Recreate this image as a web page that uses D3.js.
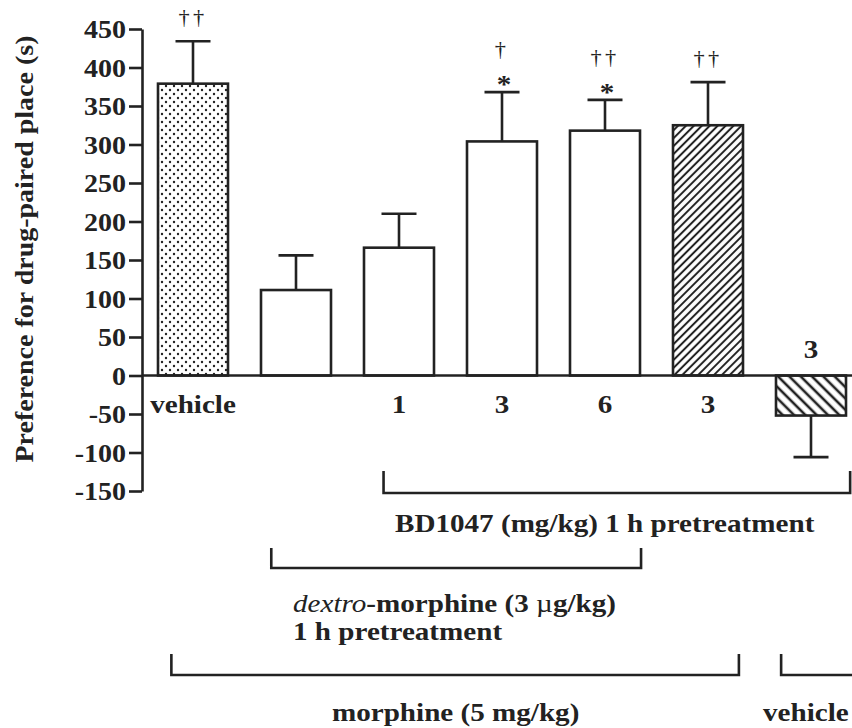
<!DOCTYPE html>
<html>
<head>
<meta charset="utf-8">
<script src="https://cdn.jsdelivr.net/npm/d3@7"></script>
<style>
  body { margin: 0; background: #fff; }
</style>
</head>
<body>
<svg id="chart" width="852" height="728"></svg>
<script>
// values (seconds)
const categories = ["vehicle", "", "1", "3", "6", "3", "3"];
const means = [379, 111, 166, 304, 318, 325, -52];
const sems = [55, 45, 44, 64, 40, 56, 54];
const fills = ["dots", "open", "open", "open", "open", "hatchUp", "hatchDown"];
const daggers = ["††", "", "", "†", "††", "††", ""];
const stars = ["", "", "", "*", "*", "", ""];
const yTicks = [-150, -100, -50, 0, 50, 100, 150, 200, 250, 300, 350, 400, 450];

// treatment groups under the axis, in bar-index units
const groupLabels = ["BD1047 (mg/kg) 1 h pretreatment", "dextro-morphine (3 µg/kg)", "morphine (5 mg/kg)", "vehicle"];
const groupFrom = [1.85, 0.76, -0.21, 5.71];
const groupTo = [6.38, 4.35, 5.3, 6.6];

const SX = 1.12;       // the print type is a bit wider than Times
const FONT = "Liberation Serif";
const ink = "#222";

const svg = d3.select("#chart");

const x = d3.scaleLinear().domain([0, 6]).range([193, 811]);
const y = d3.scaleLinear().domain([-150, 450]).range([491, 29]);
const barW = 70;
const axisX = 142;

// fill patterns
const defs = svg.append("defs");
const dots = defs.append("pattern").attr("id", "dots")
  .attr("patternUnits", "userSpaceOnUse").attr("width", 8).attr("height", 8);
dots.append("rect").attr("width", 8).attr("height", 8).attr("fill", "#fff");
dots.append("circle").attr("cx", 2).attr("cy", 2).attr("r", 1.2).attr("fill", ink);
dots.append("circle").attr("cx", 6).attr("cy", 6).attr("r", 1.2).attr("fill", ink);

function hatch(id, gap, angle, w) {
  const p = defs.append("pattern").attr("id", id)
    .attr("patternUnits", "userSpaceOnUse").attr("width", gap).attr("height", gap)
    .attr("patternTransform", "rotate(" + angle + ")");
  p.append("rect").attr("width", gap).attr("height", gap).attr("fill", "#fff");
  p.append("line").attr("x1", gap / 2).attr("x2", gap / 2).attr("y1", 0).attr("y2", gap)
    .attr("stroke", ink).attr("stroke-width", w);
}
hatch("hatchUp", 5.6, 45, 2);
hatch("hatchDown", 8, -45, 2.6);

function fillOf(f) { return f === "open" ? "#fff" : "url(#" + f + ")"; }

// text drawn inside a horizontally stretched group
function label(parent, tx, ty, str, size, anchor, rot) {
  const g = parent.append("g")
    .attr("transform", "translate(" + tx + "," + ty + ")" + (rot ? " rotate(" + rot + ")" : "") + " scale(" + SX + ",1)");
  return g.append("text")
    .attr("text-anchor", anchor || "middle")
    .style("font-family", FONT)
    .style("font-size", size + "px")
    .style("font-weight", "bold")
    .attr("fill", ink)
    .text(str);
}

// y axis (plain hyphen for negatives, as printed)
const yAxis = d3.axisLeft(y).tickValues(yTicks).tickSize(13).tickSizeOuter(0)
  .tickFormat(d => String(d));
const ga = svg.append("g").attr("transform", "translate(" + axisX + ",0)").call(yAxis);
ga.select(".domain").attr("stroke", ink).attr("stroke-width", 2.6);
ga.selectAll(".tick line").attr("stroke", ink).attr("stroke-width", 2.6);
ga.selectAll(".tick text")
  .style("font-family", FONT).style("font-size", "25px").style("font-weight", "bold")
  .attr("fill", ink)
  .attr("x", -16 / SX).attr("dy", "0.34em")
  .attr("transform", "scale(" + SX + ",1)");

label(svg, 33, 249, "Preference for drug-paired place (s)", 25, "middle", -90);

// bars
const bars = svg.append("g");
bars.selectAll("rect").data(means).join("rect")
  .attr("x", (d, i) => x(i) - barW / 2)
  .attr("y", d => y(Math.max(0, d)))
  .attr("width", barW)
  .attr("height", d => Math.abs(y(d) - y(0)))
  .attr("fill", (d, i) => fillOf(fills[i]))
  .attr("stroke", ink).attr("stroke-width", 2.6);

// error bars, pointing away from zero
const errs = svg.append("g").attr("stroke", ink).attr("stroke-width", 2.6);
means.forEach(function (m, i) {
  const tip = m >= 0 ? m + sems[i] : m - sems[i];
  errs.append("line").attr("x1", x(i)).attr("x2", x(i)).attr("y1", y(m)).attr("y2", y(tip));
  errs.append("line").attr("x1", x(i) - 17.5).attr("x2", x(i) + 17.5).attr("y1", y(tip)).attr("y2", y(tip));
});

// x axis line across at zero
svg.append("line").attr("x1", axisX).attr("x2", 852).attr("y1", y(0)).attr("y2", y(0))
  .attr("stroke", ink).attr("stroke-width", 2.6);

// category labels
categories.forEach(function (c, i) {
  if (!c) return;
  const ty = means[i] >= 0 ? y(0) + 37 : y(0) - 18;
  label(svg, x(i), ty, c, 26, "middle");
});

// significance marks
means.forEach(function (m, i) {
  const top = y(m + sems[i]);
  if (stars[i]) {
    label(svg, x(i) + 2, top + 1, stars[i], 26, "middle");
  }
  if (daggers[i]) {
    const off = stars[i] ? 36 : 17;
    label(svg, x(i), top - off, daggers[i], 20, "middle")
      .style("font-weight", "normal").attr("letter-spacing", 3);
  }
});

// group brackets
const bracketY = [493, 568, 675, 675];
const bracketH = [22, 20, 21, 21];
const bg = svg.append("g").attr("fill", "none").attr("stroke", ink).attr("stroke-width", 2.6);
groupLabels.forEach(function (t, i) {
  const x0 = x(groupFrom[i]), x1 = x(groupTo[i]), by = bracketY[i], h = bracketH[i];
  bg.append("path").attr("d", "M" + x0 + "," + (by - h) + "V" + by + "H" + x1 + "V" + (by - h));
});

label(svg, 395, 532, groupLabels[0], 26, "start");
const dex = label(svg, 293, 612, "", 26, "start");
dex.append("tspan").style("font-style", "italic").style("font-weight", "normal").text("dextro");
dex.append("tspan").text("-morphine (3 ");
dex.append("tspan").style("font-weight", "normal").text("µ");
dex.append("tspan").text("g/kg)");
label(svg, 293, 640, "1 h pretreatment", 26, "start");
label(svg, x(2.55), 721, groupLabels[2], 26, "middle");
label(svg, 763, 721, groupLabels[3], 26, "start");
</script>
</body>
</html>
